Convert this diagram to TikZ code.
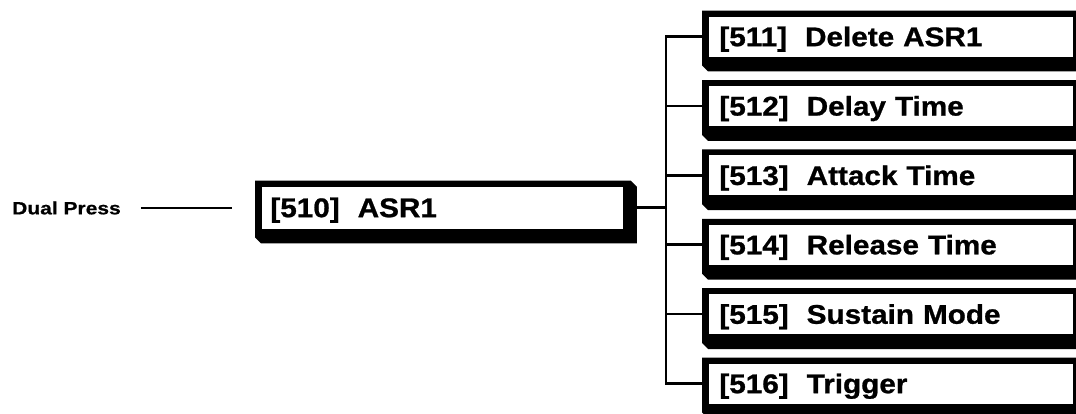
\documentclass[tikz,border=0pt]{standalone}
\usepackage{fontspec}
\usepackage{tikz}
\usetikzlibrary{calc,backgrounds}
\newfontfamily\menufont[FakeStretch=1.1, FakeBold=0.9]{Liberation Sans}
\newfontfamily\pressfont[FakeStretch=1.18, FakeBold=0.7]{Liberation Sans}
\newcommand{\gap}{\hspace{18pt}}

\begin{document}
\begin{tikzpicture}[
    x=1pt, y=-1pt,
    menu/.style={draw=black, line width=0.8pt, fill=white, anchor=west,
                 text width=343pt, inner xsep=11pt, inner ysep=0pt,
                 minimum height=41pt, text height=19.3pt, text depth=0pt,
                 align=left, font=\menufont\bfseries\fontsize{27}{30}\selectfont},
    wire/.style={line width=2.6pt},
    press/.style={font=\pressfont\bfseries\fontsize{17.8}{20}\selectfont,
                  anchor=west, inner sep=0pt}
  ]
  \useasboundingbox (0,0) rectangle (1076,413);

  % Entrada
  \node[press] (dual) at (12,208) {Dual Press};
  \coordinate (pressend) at (232,208);
  \draw[line width=1.2pt, shorten <=20pt] (dual.east) -- (pressend);

  % Menu principal
  \node[menu, text width=344pt, inner xsep=9pt, minimum height=43pt] (asr)
      at (261,207.5) {[510]\gap ASR1};

  % Submenus
  \foreach \num/\txt [count=\i from 0] in {511/Delete ASR1, 512/Delay Time,
      513/Attack Time, 514/Release Time, 515/Sustain Mode, 516/Trigger}
    \node[menu] (m\num) at (708,36.5+69.4*\i) {[\num]\gap \txt};

  % Moldura 3D atras das caixas
  \begin{scope}[on background layer]
    \foreach \n in {asr,m511,m512,m513,m514,m515,m516}
      \fill ($(\n.north west)+(-6,-5)$) -- ($(\n.north east)+(7,-5)$)
        -- ($(\n.north east)+(13,1)$) -- ($(\n.south east)+(13,14)$)
        -- ($(\n.south west)+(0,14)$) -- ($(\n.south west)+(-6,8)$) -- cycle;
  \end{scope}

  % Ligacoes
  \coordinate (bus) at (666,207.5);
  \draw[wire] (asr.east) -- (bus);
  \draw[wire] (m511.west) -| (bus) |- (m516.west);
  \foreach \n in {512,513,514,515}
    \draw[wire] (bus |- m\n.west) -- (m\n.west);
\end{tikzpicture}
\end{document}
